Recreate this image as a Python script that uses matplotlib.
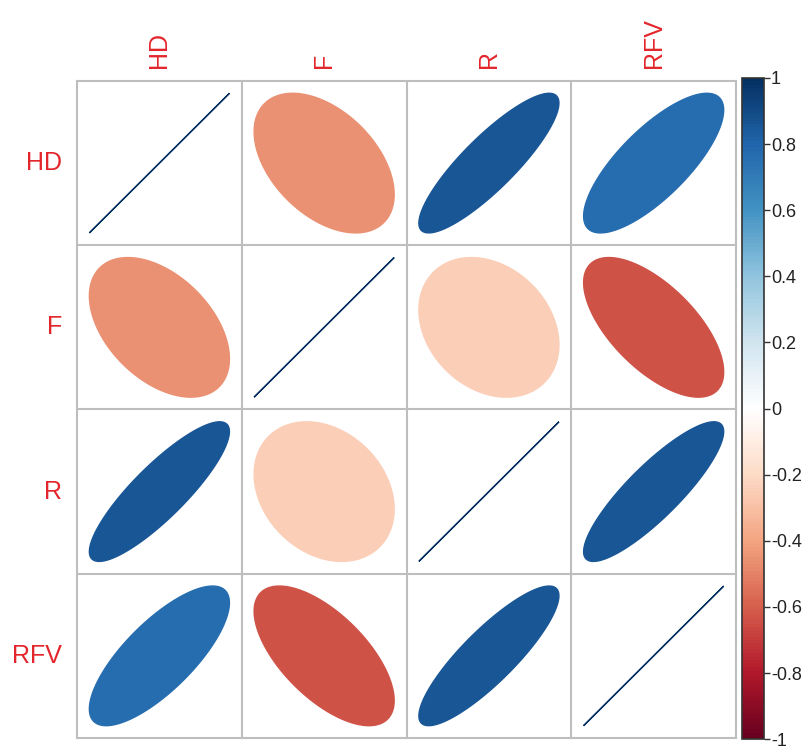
import numpy as np
import matplotlib
matplotlib.use("Agg")
import matplotlib.pyplot as plt
from matplotlib.colors import LinearSegmentedColormap, BoundaryNorm
from matplotlib.patches import Polygon

# variables and correlation matrix
labels = ["HD", "F", "R", "RFV"]
row_hd  = [1.00, -0.45,  0.86,  0.76]
row_f   = [-0.45, 1.00, -0.25, -0.64]
row_r   = [0.86, -0.25,  1.00,  0.86]
row_rfv = [0.76, -0.64,  0.86,  1.00]
cbar_ticks = [-1, -0.8, -0.6, -0.4, -0.2, 0, 0.2, 0.4, 0.6, 0.8, 1]

corr = np.array([row_hd, row_f, row_r, row_rfv])
n = len(labels)

# corrplot RdBu palette, 200 colours
rdbu = ["#67001F", "#B2182B", "#D6604D", "#F4A582", "#FDDBC7", "#FFFFFF",
        "#D1E5F0", "#92C5DE", "#4393C3", "#2166AC", "#053061"]
cmap = LinearSegmentedColormap.from_list("rdbu", rdbu, N=200)
norm = BoundaryNorm(np.linspace(-1, 1, 201), 200)

lab_col = "#E3262B"

fig = plt.figure(figsize=(8.09, 7.49), dpi=100)
ax = fig.add_axes([0.0952, 0.0147, 0.8146, 0.8772])
ax.set_xlim(0.5, n + 0.5)
ax.set_ylim(0.5, n + 0.5)
ax.set_axis_off()

def ell(rho, m=200):
    k = np.linspace(0, 2 * np.pi, m)
    a = np.arccos(np.clip(rho, -1, 1))
    x = np.cos(k + a / 2) / 2 * 0.85
    y = np.cos(k - a / 2) / 2 * 0.85
    return x, y

for i in range(n):
    for j in range(n):
        cx = j + 1
        cy = n - i
        r = corr[i, j]
        x, y = ell(r)
        col = cmap(norm(r))
        ax.add_patch(Polygon(np.column_stack([x + cx, y + cy]), closed=True,
                             facecolor=col, edgecolor=col, lw=1.0))

# grid
for v in np.arange(0.5, n + 1, 1):
    ax.plot([v, v], [0.5, n + 0.5], color="#BEBEBE", lw=1.5, clip_on=False)
    ax.plot([0.5, n + 0.5], [v, v], color="#BEBEBE", lw=1.5, clip_on=False)

for i, lab in enumerate(labels):
    ax.text(0.41, n - i, lab, ha="right", va="center", fontsize=18,
            color=lab_col, family="Liberation Sans")
    ax.text(i + 1, n + 0.58, lab, ha="center", va="bottom", rotation=90,
            fontsize=18, color=lab_col, family="Liberation Sans")

# colour bar
cax = fig.add_axes([0.917, 0.013, 0.0272, 0.883])
sm = matplotlib.cm.ScalarMappable(norm=norm, cmap=cmap)
cb = fig.colorbar(sm, cax=cax, ticks=cbar_ticks)
cb.minorticks_off()
cb.ax.set_yticklabels([("%g" % t) for t in cbar_ticks])
cb.outline.set_edgecolor("#333333")
cb.outline.set_linewidth(1.2)
cb.ax.tick_params(direction="out", length=4, width=1, colors="#333333",
                  labelsize=13, labelcolor="#222222", pad=1)
for t in cb.ax.get_yticklabels():
    t.set_family("Liberation Sans")

fig.savefig("out.png", dpi=100)
